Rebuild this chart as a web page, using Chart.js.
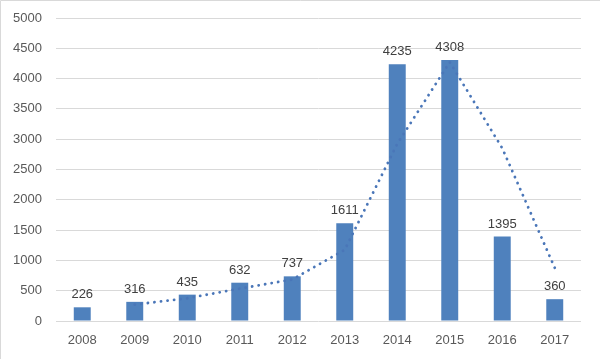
<!DOCTYPE html>
<html>
<head>
<meta charset="utf-8">
<script src="https://cdn.jsdelivr.net/npm/chart.js@4.4.1/dist/chart.umd.min.js"></script>
<style>
html,body{margin:0;padding:0;background:#fff;}
#wrap{width:600px;height:359px;position:relative;}
</style>
</head>
<body>
<div id="wrap"><canvas id="c" width="600" height="359"></canvas></div>
<script>
const categories = ['2008','2009','2010','2011','2012','2013','2014','2015','2016','2017'];
const barValues = [226, 316, 435, 632, 737, 1611, 4235, 4308, 1395, 360];
const trendValues = [null, 271, 375, 534, 684, 1174, 2923, 4272, 2852, 878];
const yTicks = [0, 500, 1000, 1500, 2000, 2500, 3000, 3500, 4000, 4500, 5000];

const FONT = "'Liberation Sans', Arial, sans-serif";

const labelPlugin = {
  id: 'barLabels',
  afterDatasetsDraw(chart) {
    const ctx = chart.ctx;
    const meta = chart.getDatasetMeta(1);
    ctx.save();
    ctx.font = '13px ' + FONT;
    ctx.fillStyle = '#404040';
    ctx.textAlign = 'center';
    ctx.textBaseline = 'bottom';
    meta.data.forEach((bar, i) => {
      ctx.fillText(String(barValues[i]), bar.x, bar.y - 6);
    });
    ctx.restore();
  }
};

const borderPlugin = {
  id: 'frame',
  afterDraw(chart) {
    const ctx = chart.ctx;
    ctx.save();
    ctx.strokeStyle = '#d9d9d9';
    ctx.lineWidth = 1;
    ctx.beginPath();
    ctx.moveTo(0.5, 359);
    ctx.lineTo(0.5, 0.5);
    ctx.lineTo(600, 0.5);
    ctx.stroke();
    ctx.restore();
  }
};

new Chart(document.getElementById('c'), {
  data: {
    labels: categories,
    datasets: [
      {
        type: 'line',
        data: trendValues,
        borderColor: '#4a76b8',
        borderWidth: 2.8,
        borderDash: [0.1, 6.5],
        borderCapStyle: 'round',
        pointRadius: 0,
        fill: false,
        tension: 0,
        spanGaps: false,
        order: 0
      },
      {
        type: 'bar',
        data: barValues,
        backgroundColor: '#4f81bd',
        categoryPercentage: 1,
        barPercentage: 0.323,
        order: 1
      }
    ]
  },
  options: {
    responsive: false,
    animation: false,
    devicePixelRatio: 1,
    layout: { padding: { top: 18, right: 19, left: 0, bottom: 0 } },
    plugins: { legend: { display: false }, tooltip: { enabled: false } },
    scales: {
      x: {
        grid: { display: false, drawTicks: false },
        border: { display: false },
        ticks: { color: '#595959', font: { family: FONT, size: 13 }, padding: 12, maxRotation: 0 },
        afterFit(s) { s.height = 38; }
      },
      y: {
        min: 0, max: 5000,
        afterBuildTicks(s) { s.ticks = yTicks.map(v => ({ value: v })); },
        grid: { color: '#d9d9d9', drawTicks: false, lineWidth: 1 },
        border: { display: false },
        ticks: { color: '#595959', font: { family: FONT, size: 13 }, padding: 14, callback: v => String(v) },
        afterFit(s) { s.width = 56; s.paddingTop = 0; s.paddingBottom = 0; }
      }
    }
  },
  plugins: [labelPlugin, borderPlugin]
});
</script>
</body>
</html>
